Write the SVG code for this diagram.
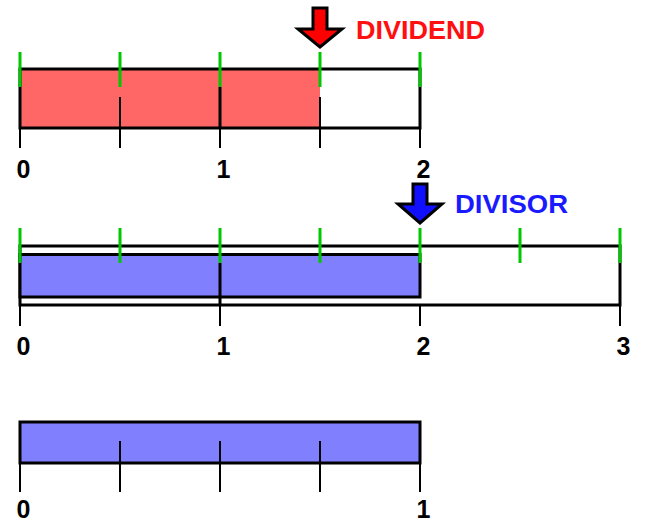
<svg xmlns="http://www.w3.org/2000/svg" width="646" height="523" viewBox="0 0 646 523">
<style>
.bar{stroke:#000;stroke-width:3;}
.tk{stroke:#000;stroke-width:2;}
.tkb{stroke:#000;stroke-width:3;}
.g{stroke:#00C800;stroke-width:3;}
.num{font-family:"Liberation Sans",Arial,sans-serif;font-weight:bold;font-size:25px;fill:#000;text-anchor:middle;}
.lbl{font-family:"Liberation Sans",Arial,sans-serif;font-weight:bold;font-size:25px;}
.arr{stroke:#000;stroke-width:3;stroke-linejoin:miter;}
</style>
<rect width="646" height="523" fill="#fff"/>
<g id="dividend-bar">
<rect x="20" y="69" width="300" height="59" fill="#FF6666"/>
<rect x="20" y="69" width="400" height="59" fill="none" class="bar"/>
<line x1="120" y1="97" x2="120" y2="148" class="tk"/>
<line x1="320" y1="97" x2="320" y2="148" class="tk"/>
<line x1="20" y1="128" x2="20" y2="148" class="tk"/>
<line x1="220" y1="87" x2="220" y2="128" class="tkb"/>
<line x1="220" y1="128" x2="220" y2="148" class="tk"/>
<line x1="420" y1="128" x2="420" y2="148" class="tk"/>
<line x1="20" y1="52" x2="20" y2="87" class="g"/>
<line x1="120" y1="52" x2="120" y2="87" class="g"/>
<line x1="220" y1="52" x2="220" y2="87" class="g"/>
<line x1="320" y1="52" x2="320" y2="87" class="g"/>
<line x1="420" y1="52" x2="420" y2="87" class="g"/>
<text x="23.5" y="178" class="num">0</text>
<text x="223.5" y="178" class="num">1</text>
<text x="423.5" y="178" class="num">2</text>
</g>
<g id="dividend-arrow">
<polygon points="313,8 327,8 327,29 342,29 320,47 298,29 313,29" fill="#FF0000" class="arr"/>
<text x="356" y="39" class="lbl" fill="#FF1010" textLength="129" lengthAdjust="spacingAndGlyphs">DIVIDEND</text>
</g>
<g id="divisor-bar">
<rect x="20" y="246" width="600" height="59" fill="none" class="bar"/>
<rect x="20" y="254.5" width="400" height="42.5" fill="#8080FF" class="bar"/>
<line x1="220" y1="263" x2="220" y2="305" class="tkb"/>
<line x1="20" y1="305" x2="20" y2="326" class="tk"/>
<line x1="220" y1="305" x2="220" y2="326" class="tk"/>
<line x1="420" y1="305" x2="420" y2="326" class="tk"/>
<line x1="620" y1="305" x2="620" y2="326" class="tk"/>
<line x1="20" y1="228" x2="20" y2="263" class="g"/>
<line x1="120" y1="228" x2="120" y2="263" class="g"/>
<line x1="220" y1="228" x2="220" y2="263" class="g"/>
<line x1="320" y1="228" x2="320" y2="263" class="g"/>
<line x1="420" y1="228" x2="420" y2="263" class="g"/>
<line x1="520" y1="228" x2="520" y2="263" class="g"/>
<line x1="620" y1="228" x2="620" y2="263" class="g"/>
<text x="23.5" y="355" class="num">0</text>
<text x="223.5" y="355" class="num">1</text>
<text x="423.5" y="355" class="num">2</text>
<text x="623.5" y="355" class="num">3</text>
</g>
<g id="divisor-arrow">
<polygon points="413,184 427,184 427,204 442,204 420,223 398,204 413,204" fill="#1010FF" class="arr"/>
<text x="455" y="213" class="lbl" fill="#1A1AFF" textLength="113" lengthAdjust="spacingAndGlyphs">DIVISOR</text>
</g>
<g id="unit-bar">
<rect x="20" y="422" width="400" height="41" fill="#8080FF" class="bar"/>
<line x1="120" y1="441" x2="120" y2="492" class="tk"/>
<line x1="220" y1="441" x2="220" y2="492" class="tk"/>
<line x1="320" y1="441" x2="320" y2="492" class="tk"/>
<line x1="20" y1="463" x2="20" y2="492" class="tk"/>
<line x1="420" y1="463" x2="420" y2="492" class="tk"/>
<text x="23.5" y="518" class="num">0</text>
<text x="423.5" y="518" class="num">1</text>
</g>
<g id="connectors"></g>
</svg>
